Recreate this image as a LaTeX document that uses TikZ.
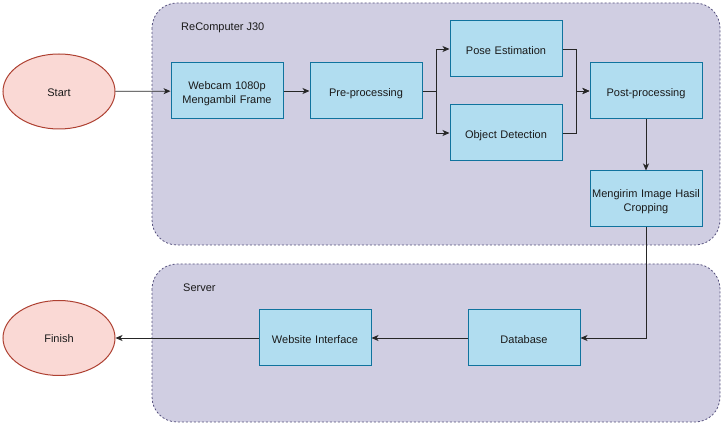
\documentclass[tikz,border=0pt]{standalone}
\usepackage{fontspec}
\setmainfont{Liberation Sans}
\usetikzlibrary{arrows.meta,shapes.geometric}
\definecolor{grpfill}{HTML}{D0CEE2}
\definecolor{grpdraw}{HTML}{56517E}
\definecolor{boxfill}{HTML}{B1DDF0}
\definecolor{boxdraw}{HTML}{10739E}
\definecolor{ellfill}{HTML}{FAD9D5}
\definecolor{elldraw}{HTML}{AE4132}
\definecolor{txt}{HTML}{1A1A1A}
\begin{document}
\begin{tikzpicture}[x=1pt,y=-1pt,
  every node/.style={font=\fontsize{11}{14}\selectfont, text=txt},
  group/.style={draw=grpdraw, fill=grpfill, line width=0.8pt, dash pattern=on 2pt off 2pt, rounded corners=25pt},
  procbox/.style={draw=boxdraw, fill=boxfill, line width=1pt, minimum width=112pt, minimum height=56pt, inner sep=0pt, align=center, text width=110pt, execute at begin node={\rule[-3pt]{0pt}{16.6pt}}},
  term/.style={ellipse, draw=elldraw, fill=ellfill, line width=1pt, minimum width=112pt, minimum height=75pt, inner sep=0pt, execute at begin node={\rule{0pt}{9.6pt}}},
  grplabel/.style={inner sep=0pt, anchor=base west},
  conn/.style={draw=black!85, line width=0.8pt, -{Stealth[length=7pt,width=6pt,inset=2pt]}}
]
\useasboundingbox (0,0) rectangle (724,427);
% groups
\draw[group] (152,3) rectangle (720,245);
\draw[group] (152,264) rectangle (720,422);
\node[grplabel] (lblrc) at (181,30.5) {ReComputer J30};
\node[grplabel] (lblsv) at (183,292) {Server};
% terminals
\node[term] (start) at (59,91.5) {Start};
\node[term] (finish) at (59,338) {Finish};
% boxes
\node[procbox] (webcam) at (227,91) {Webcam 1080p\\Mengambil Frame};
\node[procbox] (pre) at (366,91) {Pre-processing};
\node[procbox] (pose) at (506,49) {Pose Estimation};
\node[procbox] (obj) at (506,133) {Object Detection};
\node[procbox] (post) at (646,91) {Post-processing};
\node[procbox] (send) at (646,199) {Mengirim Image Hasil\\Cropping};
\node[procbox] (db) at (524,338) {Database};
\node[procbox] (web) at (315,338) {Website Interface};
% connectors
\draw[conn] (start) -- (webcam);
\draw[conn] (webcam) -- (pre);
\draw[conn] (pre.east) -- ++(14,0) |- (pose.west);
\draw[conn] (pre.east) -- ++(14,0) |- (obj.west);
\draw[conn] (pose.east) -- ++(14,0) |- (post.west);
\draw[conn] (obj.east) -- ++(14,0) |- (post.west);
\draw[conn] (post) -- (send);
\draw[conn] (send.south) |- (db.east);
\draw[conn] (db) -- (web);
\draw[conn] (web) -- (finish);
\end{tikzpicture}
\end{document}
